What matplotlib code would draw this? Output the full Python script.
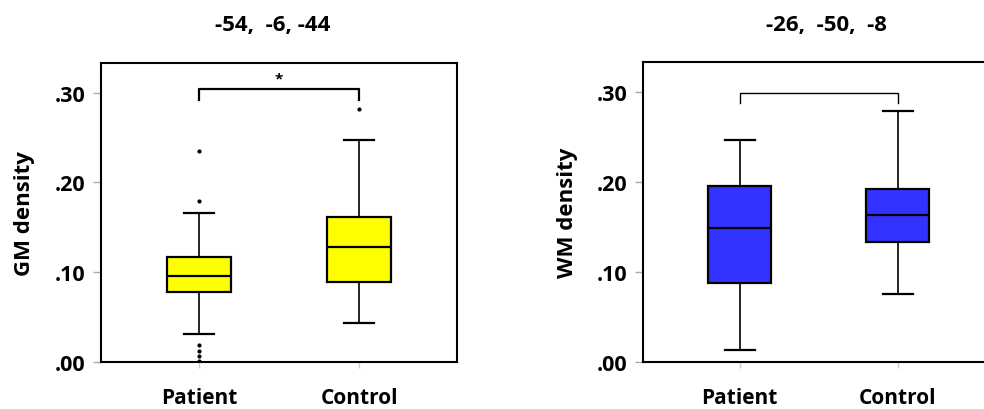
import matplotlib.pyplot as plt

plt.rcParams['font.family'] = ['Open Sans', 'DejaVu Sans']
plt.rcParams['font.weight'] = 'bold'

groups = ['Patient', 'Control']

# GM density (left panel)
gm_q1 = [0.078, 0.089]
gm_med = [0.096, 0.128]
gm_q3 = [0.117, 0.161]
gm_lo = [0.031, 0.043]
gm_hi = [0.166, 0.247]
gm_fliers = [[0.235, 0.179, 0.019, 0.012, 0.007, 0.001], [0.282]]
gm_bracket = [0.292, 0.304]

# WM density (right panel)
wm_q1 = [0.088, 0.133]
wm_med = [0.149, 0.163]
wm_q3 = [0.195, 0.192]
wm_lo = [0.013, 0.075]
wm_hi = [0.246, 0.279]
wm_fliers = [[], []]
wm_bracket = [0.287, 0.299]

yticks = [0.0, 0.1, 0.2, 0.3]
yticklabels = ['.00', '.10', '.20', '.30']


def make_stats(q1, med, q3, lo, hi, fliers):
    stats = []
    for i in range(len(q1)):
        stats.append({'q1': q1[i], 'med': med[i], 'q3': q3[i],
                      'whislo': lo[i], 'whishi': hi[i], 'fliers': fliers[i]})
    return stats


def draw_panel(ax, stats, color, ylabel, bracket, star, bracket_lw):
    ax.bxp(stats, positions=[1, 2], widths=0.4, capwidths=0.19,
           patch_artist=True, showfliers=True,
           boxprops=dict(facecolor=color, edgecolor='black', linewidth=1.6),
           medianprops=dict(color='black', linewidth=1.6),
           whiskerprops=dict(color='black', linewidth=1.2),
           capprops=dict(color='black', linewidth=1.6),
           flierprops=dict(marker='o', markersize=2, markerfacecolor='black',
                           markeredgecolor='black'))
    ax.plot([1, 1, 2, 2], [bracket[0], bracket[1], bracket[1], bracket[0]],
            color='black', linewidth=bracket_lw)
    if star:
        ax.text(1.5, bracket[1] + 0.004, '*', ha='center', va='bottom',
                fontsize=11)
    ax.set_xlim(0.389, 2.611)
    ax.set_ylim(0, 0.333)
    ax.set_yticks(yticks)
    ax.set_yticklabels(yticklabels, fontsize=15.5, fontweight='bold')
    ax.set_xticks([1, 2])
    ax.set_xticklabels(groups, fontsize=15, fontweight='bold')
    ax.tick_params(axis='y', length=6, width=1, color='#aaaaaa', pad=5)
    ax.tick_params(axis='x', length=4, width=1, color='#cccccc', pad=14)
    ax.set_ylabel(ylabel, fontsize=16, fontweight='bold', labelpad=14)
    for s in ax.spines.values():
        s.set_linewidth(1.5)
        s.set_color('black')


fig = plt.figure(figsize=(9.84, 4.10), dpi=100)
ax1 = fig.add_axes([0.1026, 0.1146, 0.3618, 0.7293])
ax2 = fig.add_axes([0.6535, 0.1146, 0.3567, 0.7317])

draw_panel(ax1, make_stats(gm_q1, gm_med, gm_q3, gm_lo, gm_hi, gm_fliers),
           '#ffff00', 'GM density', gm_bracket, True, 1.6)
draw_panel(ax2, make_stats(wm_q1, wm_med, wm_q3, wm_lo, wm_hi, wm_fliers),
           '#3333ff', 'WM density', wm_bracket, False, 1.0)

fig.text(273 / 984, 1 - 25 / 410, '-54,  -6, -44', ha='center', va='center',
         fontsize=16, fontweight='bold')
fig.text(826 / 984, 1 - 25 / 410, '-26,  -50,  -8', ha='center', va='center',
         fontsize=16, fontweight='bold')

fig.savefig('out.png', dpi=100)
